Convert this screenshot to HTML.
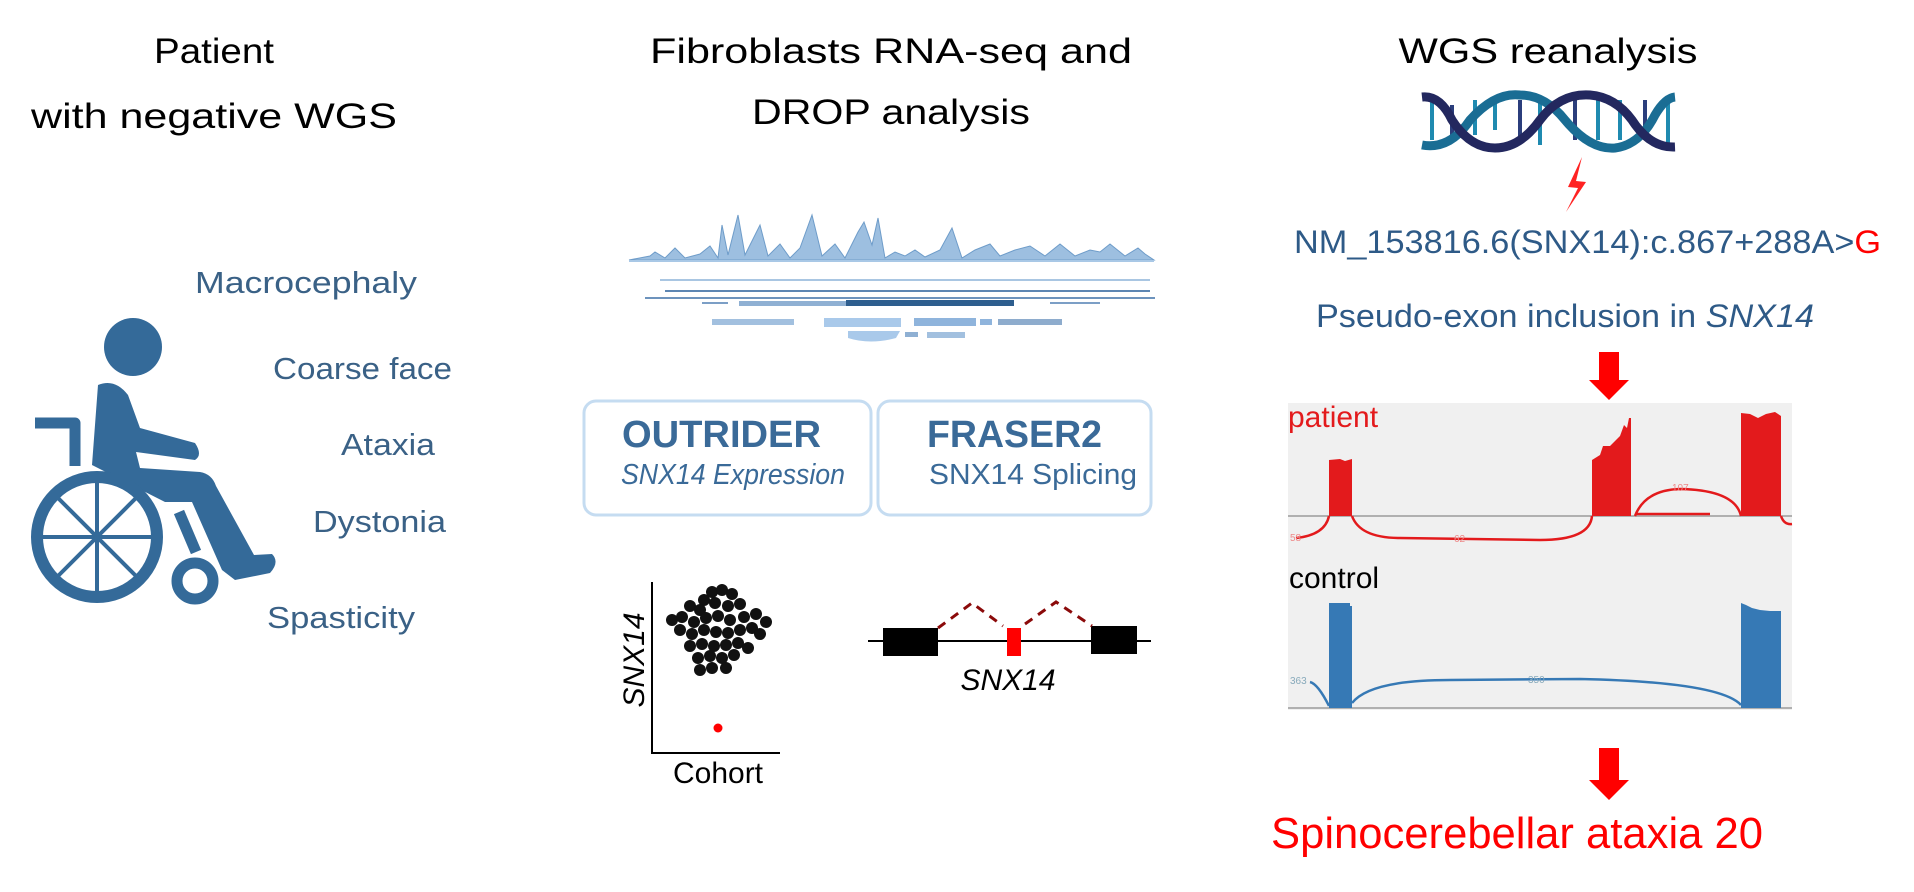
<!DOCTYPE html>
<html><head><meta charset="utf-8"><style>
html,body{margin:0;padding:0;background:#fff;}
svg{display:block;}
text{font-family:"Liberation Sans",sans-serif;}
</style></head><body>
<svg width="1914" height="892" viewBox="0 0 1914 892" xmlns="http://www.w3.org/2000/svg">
<rect width="1914" height="892" fill="#fff"/>
<g fill="#000" font-size="35">
<text x="214" y="63" text-anchor="middle" textLength="120" lengthAdjust="spacingAndGlyphs">Patient</text>
<text x="214" y="128" text-anchor="middle" textLength="366" lengthAdjust="spacingAndGlyphs">with negative WGS</text>
<text x="891" y="63" text-anchor="middle" textLength="482" lengthAdjust="spacingAndGlyphs">Fibroblasts RNA-seq and</text>
<text x="891" y="124" text-anchor="middle" textLength="278" lengthAdjust="spacingAndGlyphs">DROP analysis</text>
<text x="1548" y="63" text-anchor="middle" textLength="299" lengthAdjust="spacingAndGlyphs">WGS reanalysis</text>
</g>
<g fill="#3a6186" font-size="31">
<text x="195" y="293" textLength="222" lengthAdjust="spacingAndGlyphs">Macrocephaly</text>
<text x="273" y="379" textLength="179" lengthAdjust="spacingAndGlyphs">Coarse face</text>
<text x="341" y="455" textLength="94" lengthAdjust="spacingAndGlyphs">Ataxia</text>
<text x="313" y="532" textLength="133" lengthAdjust="spacingAndGlyphs">Dystonia</text>
<text x="267" y="628" textLength="148" lengthAdjust="spacingAndGlyphs">Spasticity</text>
</g>
<g fill="#346a99" stroke="#346a99">
<circle cx="133" cy="347" r="29" stroke="none"/>
<polyline points="35,423 75,423 75,466" fill="none" stroke-width="11" stroke-linejoin="round"/>
<path d="M98,385 Q115,378 128,395 L140,428 L195,443 Q203,455 195,460 L136,452 L140,468 L200,472 Q212,474 216,486 L254,555 L272,554 Q280,562 270,573 L235,580 L222,570 L192,502 L165,502 L92,465 Z" stroke="none"/>
<circle cx="97" cy="537" r="60" fill="none" stroke-width="12"/>
<g stroke-width="4">
<line x1="97" y1="480" x2="97" y2="594"/><line x1="40" y1="537" x2="154" y2="537"/>
<line x1="57" y1="497" x2="137" y2="577"/><line x1="57" y1="577" x2="137" y2="497"/>
</g>
<line x1="179" y1="512" x2="196" y2="552" stroke-width="11"/>
<circle cx="195" cy="581" r="18" fill="none" stroke-width="11"/>
</g>
<g>
<path d="M629,260 L650,256 L655,252 L665,258 L675,248 L685,258 L700,254 L710,246 L718,258 L722,225 L728,255 L738,215 L745,255 L760,225 L768,256 L780,244 L790,258 L800,248 L812,215 L822,256 L835,244 L845,258 L858,232 L864,222 L872,245 L878,218 L885,258 L895,252 L905,256 L915,250 L925,257 L940,250 L952,228 L962,258 L975,250 L990,244 L1000,256 L1015,250 L1030,246 L1045,256 L1060,244 L1075,256 L1090,250 L1100,252 L1110,244 L1125,256 L1138,248 L1145,254 L1154,260 Z" fill="#9dbfe0" stroke="#6e9cc9" stroke-width="1"/>
<line x1="629" y1="261" x2="1154" y2="261" stroke="#a9c8e6" stroke-width="2"/>
<line x1="660" y1="280" x2="1150" y2="280" stroke="#a9c6e2" stroke-width="2"/>
<line x1="665" y1="291" x2="1150" y2="291" stroke="#5d86b3" stroke-width="2"/>
<line x1="645" y1="298" x2="1155" y2="298" stroke="#6d93bd" stroke-width="2"/>
<rect x="739" y="301" width="135" height="5" fill="#8fb0d3"/>
<rect x="846" y="300" width="168" height="6" fill="#2e5e8e"/>
<line x1="702" y1="303" x2="728" y2="303" stroke="#7c9fc6" stroke-width="2"/>
<line x1="1050" y1="303" x2="1100" y2="303" stroke="#7c9fc6" stroke-width="2"/>
<rect x="712" y="319" width="82" height="6" fill="#a2c0df"/>
<rect x="824" y="318" width="77" height="9" fill="#a9c9ea"/>
<rect x="914" y="318" width="62" height="8" fill="#8fb4dc"/>
<rect x="980" y="319" width="12" height="6" fill="#8fb4dc"/>
<rect x="998" y="319" width="64" height="6" fill="#8eaccd"/>
<path d="M848,331 L900,331 L896,338 Q870,345 848,338 Z" fill="#a9c9ea"/>
<rect x="905" y="332" width="13" height="5" fill="#8fb0d3"/>
<rect x="927" y="332" width="38" height="6" fill="#a2c0df"/>
</g>
<g fill="none" stroke="#c5dcf1" stroke-width="3">
<rect x="584" y="401" width="287" height="114" rx="12"/>
<rect x="878" y="401" width="273" height="114" rx="12"/>
</g>
<g fill="#3a6a98">
<text x="622" y="447" font-size="38" font-weight="bold" textLength="199" lengthAdjust="spacingAndGlyphs">OUTRIDER</text>
<text x="621" y="484" font-size="29" font-style="italic" textLength="224" lengthAdjust="spacingAndGlyphs">SNX14 Expression</text>
<text x="927" y="447" font-size="38" font-weight="bold" textLength="175" lengthAdjust="spacingAndGlyphs">FRASER2</text>
<text x="929" y="484" font-size="29" textLength="208" lengthAdjust="spacingAndGlyphs">SNX14 Splicing</text>
</g>
<polyline points="652,582 652,753 780,753" fill="none" stroke="#000" stroke-width="2"/>
<g fill="#111">
<circle cx="712" cy="592" r="6"/><circle cx="722" cy="590" r="6"/><circle cx="732" cy="594" r="6"/><circle cx="704" cy="600" r="6"/>
<circle cx="690" cy="606" r="6"/><circle cx="700" cy="610" r="6"/><circle cx="715" cy="603" r="6"/><circle cx="728" cy="606" r="6"/><circle cx="740" cy="604" r="6"/>
<circle cx="672" cy="620" r="6"/><circle cx="682" cy="617" r="6"/><circle cx="694" cy="622" r="6"/><circle cx="706" cy="618" r="6"/><circle cx="718" cy="616" r="6"/><circle cx="730" cy="620" r="6"/><circle cx="744" cy="617" r="6"/><circle cx="756" cy="614" r="6"/><circle cx="766" cy="622" r="6"/>
<circle cx="680" cy="630" r="6"/><circle cx="692" cy="634" r="6"/><circle cx="704" cy="630" r="6"/><circle cx="716" cy="632" r="6"/><circle cx="728" cy="633" r="6"/><circle cx="740" cy="630" r="6"/><circle cx="752" cy="628" r="6"/><circle cx="760" cy="634" r="6"/>
<circle cx="690" cy="646" r="6"/><circle cx="702" cy="644" r="6"/><circle cx="714" cy="646" r="6"/><circle cx="726" cy="645" r="6"/><circle cx="738" cy="643" r="6"/><circle cx="748" cy="648" r="6"/>
<circle cx="698" cy="658" r="6"/><circle cx="710" cy="656" r="6"/><circle cx="722" cy="658" r="6"/><circle cx="734" cy="655" r="6"/>
<circle cx="700" cy="670" r="6"/><circle cx="712" cy="668" r="6"/><circle cx="726" cy="668" r="6"/>
</g>
<circle cx="718" cy="728" r="4.5" fill="#f00"/>
<text transform="translate(644,660) rotate(-90)" text-anchor="middle" font-size="30" font-style="italic" fill="#000">SNX14</text>
<text x="718" y="783" text-anchor="middle" font-size="30" fill="#000">Cohort</text>
<line x1="868" y1="641" x2="1151" y2="641" stroke="#000" stroke-width="2"/>
<rect x="883" y="628" width="55" height="28" fill="#000"/>
<rect x="1091" y="626" width="46" height="28" fill="#000"/>
<rect x="1007" y="628" width="14" height="28" fill="#f00"/>
<polyline points="938,628 972,603 1003,626" fill="none" stroke="#8b0a0a" stroke-width="3" stroke-dasharray="9,7"/>
<polyline points="1025,624 1056,602 1092,626" fill="none" stroke="#8b0a0a" stroke-width="3" stroke-dasharray="9,7"/>
<text x="1008" y="690" text-anchor="middle" font-size="30" font-style="italic" fill="#000">SNX14</text>
<g fill="none" stroke-width="9">
<g stroke-width="4">
<line x1="1432" y1="100" x2="1432" y2="140" stroke="#1f8ab0"/><line x1="1452" y1="105" x2="1452" y2="140" stroke="#2b3e7c"/>
<line x1="1475" y1="100" x2="1475" y2="135" stroke="#1f8ab0"/><line x1="1495" y1="98" x2="1495" y2="130" stroke="#1f8ab0"/>
<line x1="1520" y1="100" x2="1520" y2="140" stroke="#2b3e7c"/><line x1="1540" y1="100" x2="1540" y2="145" stroke="#1f8ab0"/>
<line x1="1575" y1="98" x2="1575" y2="140" stroke="#2b3e7c"/><line x1="1598" y1="100" x2="1598" y2="140" stroke="#1f8ab0"/>
<line x1="1620" y1="100" x2="1620" y2="140" stroke="#1f8ab0"/><line x1="1645" y1="100" x2="1645" y2="140" stroke="#2b3e7c"/>
<line x1="1668" y1="98" x2="1668" y2="145" stroke="#1f8ab0"/>
</g>
<path d="M1422,145 Q1450,150 1470,120 Q1495,92 1520,95 Q1545,95 1565,120 Q1590,150 1615,148 Q1640,145 1655,115 Q1665,98 1675,97" stroke="#1a6d94"/>
<path d="M1422,97 Q1440,95 1452,120 Q1470,148 1495,148 Q1520,148 1540,120 Q1560,93 1590,95 Q1615,97 1632,120 Q1650,148 1675,147" stroke="#23285f"/>
</g>
<path d="M1582,157 L1568,187 L1578,188 L1566,212 L1586,182 L1576,181 Z" fill="#f22"/>
<text x="1294" y="253" font-size="32" fill="#2e5a87" textLength="587" lengthAdjust="spacingAndGlyphs">NM_153816.6(SNX14):c.867+288A&gt;<tspan fill="#f00">G</tspan></text>
<text x="1316" y="327" font-size="32" fill="#2e5a87" textLength="498" lengthAdjust="spacingAndGlyphs">Pseudo-exon inclusion in <tspan font-style="italic">SNX14</tspan></text>
<path d="M1599,352 L1619,352 L1619,380 L1629,380 L1609,400 L1589,380 L1599,380 Z" fill="#f00"/>
<rect x="1288" y="403" width="504" height="307" fill="#f0f0f0"/>
<line x1="1288" y1="516" x2="1792" y2="516" stroke="#b0b0b0" stroke-width="2"/>
<line x1="1288" y1="708" x2="1792" y2="708" stroke="#b0b0b0" stroke-width="2"/>
<text x="1288" y="427" font-size="30" fill="#e31a1c">patient</text>
<text x="1289" y="588" font-size="30" fill="#000">control</text>
<g fill="#e31a1c">
<path d="M1329,516 L1329,460 L1340,459 L1345,461 L1352,459 L1352,516 Z"/>
<path d="M1592,516 L1592,460 L1600,455 L1603,446 L1610,446 L1616,440 L1620,436 L1624,425 L1627,428 L1629,418 L1631,418 L1631,516 Z"/>
<path d="M1741,516 L1741,413 L1750,414 L1758,418 L1766,414 L1775,412 L1781,416 L1781,516 Z"/>
</g>
<g fill="none" stroke="#e31a1c" stroke-width="2.5">
<path d="M1352,516 Q1360,538 1400,538 L1540,540 Q1590,540 1592,516"/>
<path d="M1329,516 Q1325,535 1296,538"/>
<path d="M1635,516 Q1645,490 1680,489 Q1735,490 1741,516"/>
<path d="M1781,516 Q1784,525 1792,524"/>
<line x1="1635" y1="514" x2="1710" y2="514"/>
</g>
<g fill="#3679b5">
<path d="M1329,708 L1329,603 L1350,603 L1350,606 L1352,606 L1352,708 Z"/>
<path d="M1741,708 L1741,603 L1746,605 L1752,608 L1760,610 L1770,611 L1781,611 L1781,708 Z"/>
</g>
<g fill="none" stroke="#3679b5" stroke-width="2.5">
<path d="M1352,703 Q1370,680 1450,680 L1580,679 Q1720,682 1741,705"/>
<path d="M1329,706 Q1318,684 1310,682"/>
</g>
<g font-size="10" fill="#e88"><text x="1290" y="541">58</text><text x="1454" y="542">62</text><text x="1672" y="491">107</text></g>
<g font-size="10" fill="#8ab"><text x="1290" y="684">363</text><text x="1528" y="683">350</text></g>
<path d="M1599,748 L1619,748 L1619,780 L1629,780 L1609,800 L1589,780 L1599,780 Z" fill="#f00"/>
<text x="1271" y="848" font-size="44" fill="#f00" textLength="492" lengthAdjust="spacingAndGlyphs">Spinocerebellar ataxia 20</text>
</svg>
</body></html>
